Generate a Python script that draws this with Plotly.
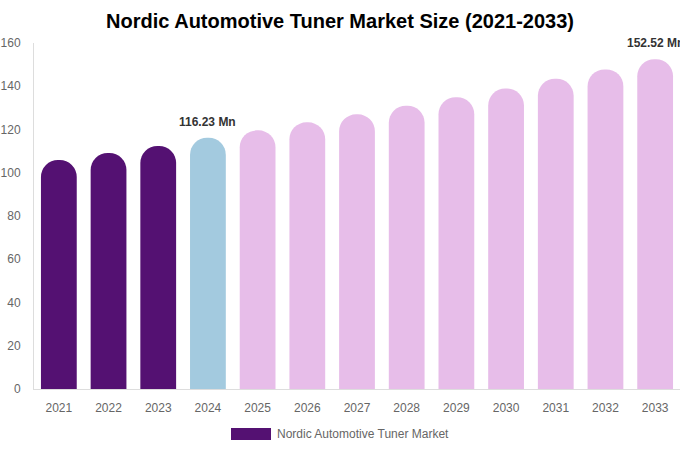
import plotly.graph_objects as go

years = ["2021", "2022", "2023", "2024", "2025", "2026", "2027",
         "2028", "2029", "2030", "2031", "2032", "2033"]
values = [105.9, 109.1, 112.4, 116.23, 119.6, 123.3, 127.0,
          131.0, 134.9, 139.0, 143.5, 147.8, 152.52]
colors = ["#541172"] * 3 + ["#A3CADF"] + ["#E7BDE9"] * 9
series_name = "Nordic Automotive Tuner Market"
labeled = {"2024": "116.23 Mn", "2033": "152.52 Mn"}
y_ticks = [0, 20, 40, 60, 80, 100, 120, 140, 160]

FONT = "Liberation Sans, Arial, sans-serif"

fig = go.Figure()
fig.add_trace(go.Bar(
    x=years, y=values, name=series_name,
    marker=dict(color=colors, cornerradius=18, line=dict(width=0)),
    showlegend=False,
    hoverinfo="x+y",
))

for yr, txt in labeled.items():
    i = years.index(yr)
    fig.add_annotation(
        x=i, y=values[i], text="<b>" + txt + "</b>",
        showarrow=False, yshift=16, xref="x", yref="y",
        font=dict(size=12, color="#333333", family=FONT),
    )

# legend swatch and label
fig.add_shape(type="rect", xref="paper", yref="paper",
              x0=(231 - 34) / 646, x1=(271 - 34) / 646,
              y0=-(440 - 389) / 346, y1=-(428 - 389) / 346,
              fillcolor="#541172", line=dict(width=0))
fig.add_annotation(xref="paper", yref="paper",
                   x=(275 - 34) / 646, y=-(434 - 389) / 346,
                   xanchor="left", yanchor="middle", showarrow=False,
                   text=series_name,
                   font=dict(size=12, color="#666666", family=FONT))

fig.update_layout(
    width=680, height=450,
    margin=dict(l=34, r=0, t=43, b=61),
    paper_bgcolor="white", plot_bgcolor="white",
    bargap=0.28,
    title=dict(text="<b>Nordic Automotive Tuner Market Size (2021-2033)</b>",
               x=0.5, xanchor="center", y=1 - 21 / 450, yanchor="middle",
               font=dict(size=20, color="#000000", family=FONT)),
    font=dict(family=FONT, size=12, color="#666666"),
    xaxis=dict(type="category", range=[-0.5, len(years) - 0.5], showgrid=False,
               showline=True, linecolor="#dddddd",
               linewidth=1, ticks="", tickfont=dict(size=12, color="#666666"),
               ticklabelstandoff=8),
    yaxis=dict(range=[0, 160], tickvals=y_ticks, showgrid=False, zeroline=False,
               showline=True, linecolor="#dddddd", linewidth=1, ticks="",
               tickfont=dict(size=12, color="#666666"), ticklabelstandoff=10),
)

fig.write_html("out.html", config={"displayModeBar": False},
               post_script="document.body.style.margin='0';")
